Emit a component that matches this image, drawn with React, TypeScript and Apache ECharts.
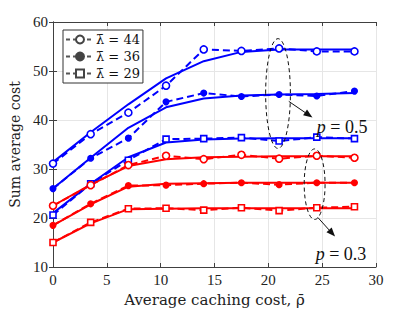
import React, { useEffect, useRef } from "react";
import * as echarts from "echarts";

const xs = [0, 3.5, 7, 10.5, 14, 17.5, 21, 24.5, 28];

// p = 0.5 (blue)
const blue44Solid = [31.4, 37.5, 43.2, 48.5, 52.0, 53.9, 54.4, 54.4, 54.4];
const blue44Dash = [31.1, 37.1, 41.5, 47.0, 54.4, 54.1, 54.6, 54.0, 54.0];
const blue36Solid = [26.0, 32.3, 38.4, 42.6, 44.4, 45.0, 45.2, 45.3, 45.5];
const blue36Dash = [26.0, 32.2, 36.3, 43.7, 45.5, 44.8, 45.2, 44.9, 45.9];
const blue29Solid = [21.0, 27.0, 32.4, 35.4, 36.0, 36.2, 36.3, 36.3, 36.3];
const blue29Dash = [20.6, 27.0, 31.8, 36.1, 36.2, 36.4, 35.7, 36.5, 36.2];

// p = 0.3 (red)
const red44Solid = [22.5, 26.8, 30.6, 32.0, 32.4, 32.5, 32.6, 32.6, 32.6];
const red44Dash = [22.5, 26.7, 30.8, 32.7, 32.0, 32.9, 32.1, 32.7, 32.3];
const red36Solid = [18.5, 22.8, 26.4, 27.0, 27.1, 27.2, 27.2, 27.2, 27.2];
const red36Dash = [18.5, 22.9, 26.6, 26.7, 27.0, 27.2, 26.8, 27.2, 27.2];
const red29Solid = [15.0, 18.9, 21.8, 21.9, 22.0, 22.0, 22.0, 22.0, 22.0];
const red29Dash = [15.0, 19.1, 21.9, 22.0, 21.6, 22.1, 21.5, 22.1, 22.3];

const legendNames = ["\u03BB\u0304 = 44", "\u03BB\u0304 = 36", "\u03BB\u0304 = 29"];
const xTicks = [0, 5, 10, 15, 20, 25, 30];
const yTicks = [10, 20, 30, 40, 50, 60];

const FONT = "Liberation Serif";
const DFONT = "DejaVu Serif";
const BLUE = "#0000ff";
const RED = "#ff0000";

const pairs = (ys: number[]) => xs.map((x, i) => [x, ys[i]]);

function solid(ys: number[], color: string) {
  return {
    type: "line",
    data: pairs(ys),
    symbol: "none",
    lineStyle: { color, width: 2 },
    silent: true,
    z: 3,
  };
}

function dashed(ys: number[], color: string, kind: number) {
  const symbol = kind === 2 ? "rect" : "circle";
  const size = kind === 0 ? 7 : kind === 1 ? 5.5 : 6;
  const fill = kind === 1 ? color : "#ffffff";
  return {
    type: "line",
    data: pairs(ys),
    symbol,
    symbolSize: size,
    showAllSymbol: true,
    itemStyle: { color: fill, borderColor: color, borderWidth: 1.6 },
    lineStyle: { color, width: 2, type: [7, 4] },
    silent: true,
    z: 4,
  };
}

function legendSeries(name: string, kind: number) {
  const symbol = kind === 2 ? "rect" : "circle";
  const size = kind === 0 ? 6 : kind === 1 ? 4 : 5;
  const fill = kind === 1 ? "#444" : "#fff";
  return {
    type: "line",
    name,
    data: [],
    symbol,
    symbolSize: size,
    itemStyle: { color: fill, borderColor: "#444", borderWidth: 0.8 },
    lineStyle: { color: "#555", width: 1, type: [4, 3] },
  };
}

export default function App() {
  const ref = useRef<HTMLDivElement>(null);
  useEffect(() => {
    if (!ref.current) return;
    const chart = echarts.init(ref.current, undefined, { renderer: "svg" });
    const axisLine = { show: true, lineStyle: { color: "#404040", width: 1 } };
    const option: any = {
      animation: false,
      backgroundColor: "#ffffff",
      textStyle: { fontFamily: FONT },
      grid: { left: 53, right: 39, top: 22, bottom: 38, containLabel: false },
      legend: {
        left: 63,
        top: 30,
        orient: "vertical",
        itemWidth: 28,
        itemHeight: 10,
        itemGap: 4,
        padding: [3, 3, 3, 2],
        backgroundColor: "#ffffff",
        borderColor: "#333",
        borderWidth: 1,
        borderRadius: 0,
        textStyle: { fontFamily: DFONT, fontSize: 13, color: "#111", padding: [0, 0, 0, -3] },
        data: legendNames,
      },
      xAxis: [
        {
          type: "value",
          min: 0,
          max: 30,
          interval: 5,
          name: "Average caching cost, \u03C1\u0304",
          nameLocation: "middle",
          nameGap: 25,
          nameTextStyle: { fontFamily: DFONT, fontSize: 15, color: "#222" },
          axisLine,
          axisTick: { show: true, inside: true, length: 4, lineStyle: { color: "#404040" } },
          axisLabel: {
            fontFamily: FONT,
            fontSize: 15,
            color: "#222",
            margin: 5,
            customValues: xTicks,
          },
          splitLine: { show: true, lineStyle: { color: "#e6e6e6", width: 1 } },
        },
        {
          type: "value",
          position: "top",
          min: 0,
          max: 30,
          interval: 5,
          axisLine,
          axisTick: { show: true, inside: true, length: 4, lineStyle: { color: "#404040" } },
          axisLabel: { show: false },
          splitLine: { show: false },
        },
      ],
      yAxis: [
        {
          type: "value",
          min: 10,
          max: 60,
          interval: 10,
          name: "Sum average cost",
          nameLocation: "middle",
          nameGap: 31,
          nameTextStyle: { fontFamily: DFONT, fontSize: 14, color: "#222" },
          axisLine,
          axisTick: { show: true, inside: true, length: 4, lineStyle: { color: "#404040" } },
          axisLabel: {
            fontFamily: FONT,
            fontSize: 15,
            color: "#222",
            margin: 5,
            customValues: yTicks,
          },
          splitLine: { show: true, lineStyle: { color: "#e6e6e6", width: 1 } },
        },
        {
          type: "value",
          position: "right",
          min: 10,
          max: 60,
          interval: 10,
          axisLine,
          axisTick: { show: true, inside: true, length: 4, lineStyle: { color: "#404040" } },
          axisLabel: { show: false },
          splitLine: { show: false },
        },
      ],
      series: [
        solid(blue44Solid, BLUE),
        solid(blue36Solid, BLUE),
        solid(blue29Solid, BLUE),
        solid(red44Solid, RED),
        solid(red36Solid, RED),
        solid(red29Solid, RED),
        dashed(blue44Dash, BLUE, 0),
        dashed(blue36Dash, BLUE, 1),
        dashed(blue29Dash, BLUE, 2),
        dashed(red44Dash, RED, 0),
        dashed(red36Dash, RED, 1),
        dashed(red29Dash, RED, 2),
        legendSeries(legendNames[0], 0),
        legendSeries(legendNames[1], 1),
        legendSeries(legendNames[2], 2),
      ],
    };
    chart.setOption(option);

    const px = (p: number[]) => chart.convertToPixel({ gridIndex: 0 }, p) as number[];
    const ellipse = (c: number[], hw: number, hh: number) => {
      const cc = px(c);
      const e = px([c[0] + hw, c[1] + hh]);
      return {
        type: "ellipse",
        shape: { cx: cc[0], cy: cc[1], rx: Math.abs(e[0] - cc[0]), ry: Math.abs(cc[1] - e[1]) },
        style: { fill: "none", stroke: "#111", lineWidth: 1, lineDash: [4, 3] },
        silent: true,
        z: 10,
      };
    };
    const arrow = (a: number[], b: number[]) => {
      const p1 = px(a);
      const p2 = px(b);
      const ang = Math.atan2(p2[1] - p1[1], p2[0] - p1[0]);
      const L = 9;
      const W = 3.5;
      const bx = p2[0] - L * Math.cos(ang);
      const by = p2[1] - L * Math.sin(ang);
      const nx = -Math.sin(ang) * W;
      const ny = Math.cos(ang) * W;
      return [
        {
          type: "line",
          shape: { x1: p1[0], y1: p1[1], x2: bx, y2: by },
          style: { stroke: "#111", lineWidth: 1 },
          silent: true,
          z: 10,
        },
        {
          type: "polygon",
          shape: { points: [[p2[0], p2[1]], [bx + nx, by + ny], [bx - nx, by - ny]] },
          style: { fill: "#111" },
          silent: true,
          z: 10,
        },
      ];
    };
    const label = (p: number[], v: string) => {
      const q = px(p);
      return {
        type: "text",
        x: q[0],
        y: q[1],
        style: {
          text: "{i|p} = " + v,
          fontFamily: FONT,
          fontSize: 18,
          fill: "#111",
          textVerticalAlign: "middle",
          rich: { i: { fontFamily: FONT, fontStyle: "italic", fontSize: 18 } },
        },
        silent: true,
        z: 10,
      };
    };
    chart.setOption({
      graphic: [
        ellipse([20.9, 45.4], 1.15, 11.2),
        ellipse([24.3, 26.9], 0.97, 7.2),
        ...arrow([21.9, 43.8], [24.1, 40.5]),
        ...arrow([24.6, 20.1], [26.2, 16.2]),
        label([24.5, 38.6], "0.5"),
        label([24.4, 12.6], "0.3"),
      ],
    });
    return () => chart.dispose();
  }, []);
  return (
    <div
      ref={ref}
      style={{ position: "fixed", left: 0, top: 0, width: 415, height: 312, background: "#fff" }}
    />
  );
}
